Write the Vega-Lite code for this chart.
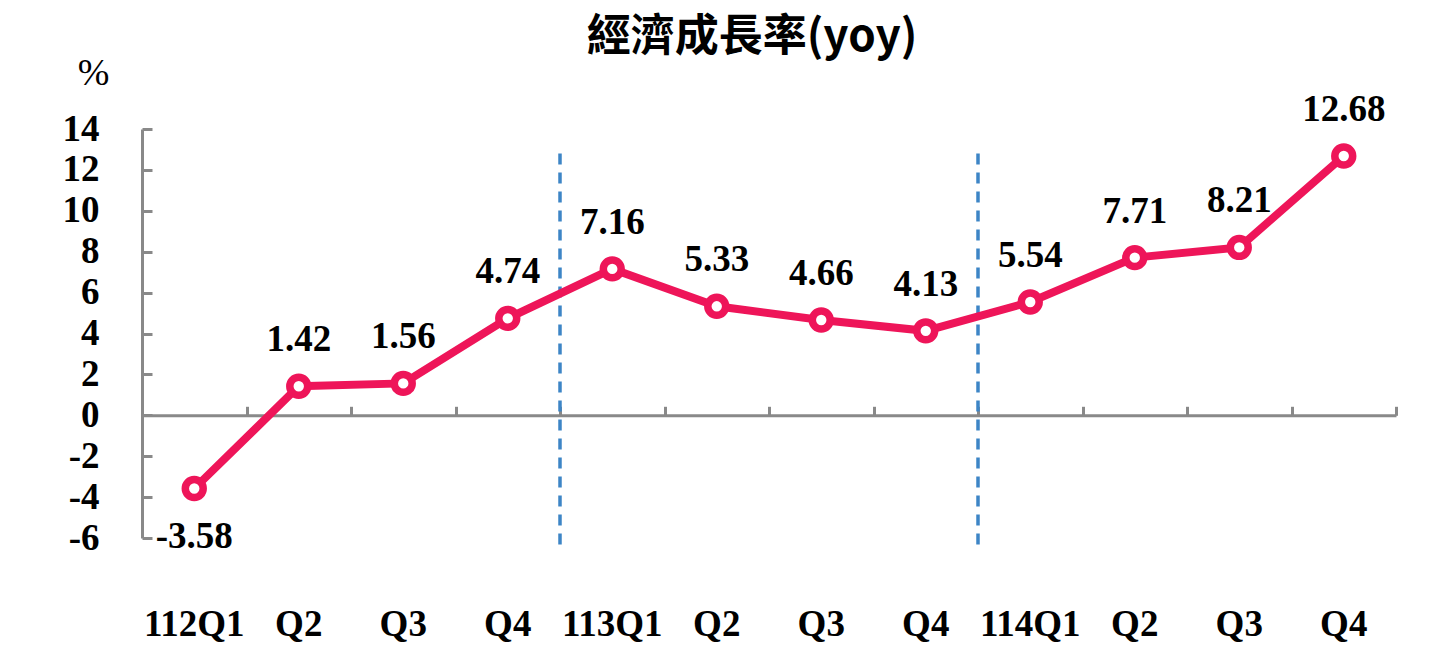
{
  "$schema": "https://vega.github.io/schema/vega-lite/v6.json",
  "width": 1254,
  "height": 409,
  "autosize": {"type": "none"},
  "padding": {"left": 142, "top": 129, "right": 52, "bottom": 131},
  "title": {
    "text": "經濟成長率(yoy)",
    "font": "Noto Sans CJK TC",
    "fontSize": 44,
    "fontWeight": "bold",
    "color": "black",
    "anchor": "middle",
    "frame": "group",
    "dx": -17,
    "offset": -6
  },
  "data": {
    "values": [
      {"q": "112Q1", "v": -3.58},
      {"q": "112Q2", "v": 1.42},
      {"q": "112Q3", "v": 1.56},
      {"q": "112Q4", "v": 4.74},
      {"q": "113Q1", "v": 7.16},
      {"q": "113Q2", "v": 5.33},
      {"q": "113Q3", "v": 4.66},
      {"q": "113Q4", "v": 4.13},
      {"q": "114Q1", "v": 5.54},
      {"q": "114Q2", "v": 7.71},
      {"q": "114Q3", "v": 8.21},
      {"q": "114Q4", "v": 12.68}
    ]
  },
  "encoding": {
    "x": {
      "field": "q",
      "type": "ordinal",
      "bandPosition": 0.5,
      "scale": {
        "type": "band",
        "domain": ["112Q1", "112Q2", "112Q3", "112Q4", "113Q1", "113Q2", "113Q3", "113Q4", "114Q1", "114Q2", "114Q3", "114Q4"],
        "paddingInner": 0,
        "paddingOuter": 0
      },
      "axis": null
    },
    "y": {
      "field": "v",
      "type": "quantitative",
      "scale": {"domain": [-6, 14], "nice": false, "zero": false},
      "axis": {
        "values": [-6, -4, -2, 0, 2, 4, 6, 8, 10, 12, 14],
        "grid": false,
        "domainColor": "#898989",
        "domainWidth": 3,
        "tickColor": "#898989",
        "tickWidth": 3,
        "tickSize": -10,
        "labelPadding": 53,
        "labelFont": "Liberation Serif",
        "labelFontSize": 37,
        "labelFontWeight": "bold",
        "labelColor": "black",
        "labelExpr": "replace(datum.label, '\u2212', '-')",
        "title": "%",
        "titleAngle": 0,
        "titleFont": "Liberation Serif",
        "titleFontSize": 38,
        "titleFontWeight": "normal",
        "titleColor": "black",
        "titleX": -49,
        "titleY": -56,
        "titleAlign": "center",
        "titleBaseline": "middle"
      }
    }
  },
  "layer": [
    {
      "transform": [{"filter": "datum.q == '113Q1' || datum.q == '114Q1'"}],
      "mark": {"type": "rule", "stroke": "#3D85C6", "strokeWidth": 3.5, "strokeDash": [11, 8]},
      "encoding": {
        "x": {
          "field": "q",
          "type": "ordinal",
          "bandPosition": 0,
          "axis": {
            "orient": "bottom",
            "domain": false,
            "ticks": false,
            "labelAngle": 0,
            "labelBaseline": "top",
            "labelPadding": 68,
            "labelFont": "Liberation Serif",
            "labelFontSize": 37,
            "labelFontWeight": "bold",
            "labelColor": "black",
            "labelExpr": "slice(datum.label, 3) == 'Q1' ? datum.label : slice(datum.label, 3)",
            "title": null
          }
        },
        "y": {"datum": 12.8},
        "y2": {"datum": -6.6}
      }
    },
    {
      "mark": {"type": "line", "color": "#EE1559", "strokeWidth": 8},
      "encoding": {
        "x": {
          "field": "q",
          "type": "ordinal",
          "bandPosition": 0.5,
          "axis": {
            "orient": "top",
            "offset": -286.3,
            "labels": false,
            "title": null,
            "domainColor": "#898989",
            "domainWidth": 3,
            "tickColor": "#898989",
            "tickWidth": 3,
            "tickSize": 9,
            "tickBand": "extent"
          }
        }
      }
    },
    {
      "mark": {
        "type": "point",
        "shape": "circle",
        "filled": true,
        "fill": "white",
        "stroke": "#EE1559",
        "strokeWidth": 7.5,
        "size": 320,
        "opacity": 1
      }
    },
    {
      "transform": [
        {"filter": "datum.v >= 0"},
        {"calculate": "replace(format(datum.v, '.2f'), '\u2212', '-')", "as": "lbl"}
      ],
      "mark": {
        "type": "text",
        "dy": -46,
        "font": "Liberation Serif",
        "fontSize": 37,
        "fontWeight": "bold",
        "color": "black"
      },
      "encoding": {"text": {"field": "lbl", "type": "nominal"}}
    },
    {
      "transform": [
        {"filter": "datum.v < 0"},
        {"calculate": "replace(format(datum.v, '.2f'), '\u2212', '-')", "as": "lbl"}
      ],
      "mark": {
        "type": "text",
        "dy": 48,
        "font": "Liberation Serif",
        "fontSize": 37,
        "fontWeight": "bold",
        "color": "black"
      },
      "encoding": {"text": {"field": "lbl", "type": "nominal"}}
    }
  ],
  "resolve": {"axis": {"x": "independent"}},
  "config": {"view": {"stroke": null}}
}
